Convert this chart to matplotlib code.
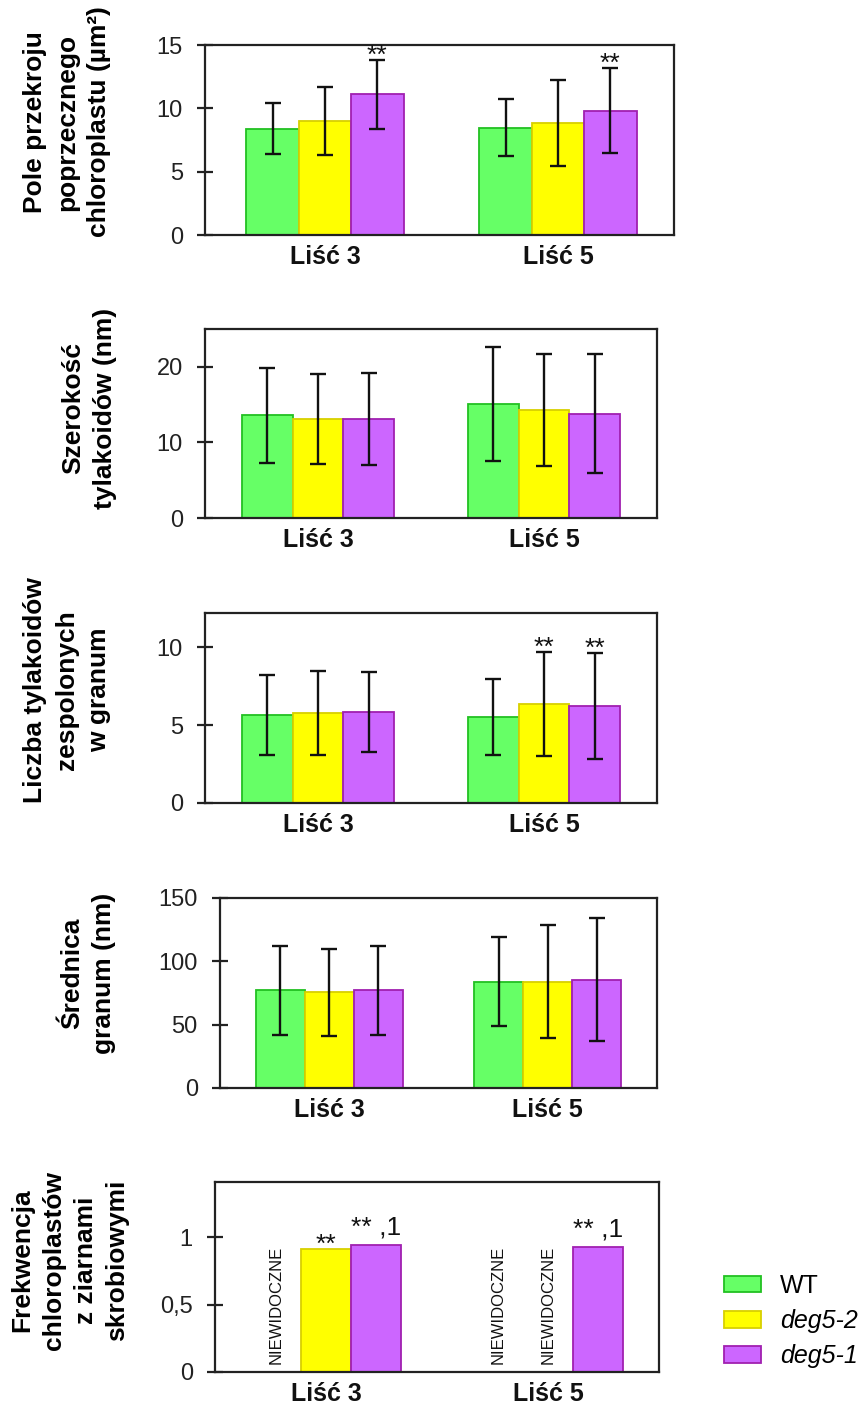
import numpy as np
import matplotlib
matplotlib.use('Agg')
import matplotlib.pyplot as plt
from matplotlib.patches import Patch
from matplotlib import font_manager

plt.rcParams['font.family'] = ['Liberation Sans', 'DejaVu Sans']

# kategorie
leaves = ['Liść 3', 'Liść 5']
genotypes = ['WT', 'deg5-2', 'deg5-1']
face_colors = ['#66FF66', '#FFFF00', '#CC66FF']
edge_colors = ['#22C022', '#D8D000', '#A020B0']

# wiersze: WT, deg5-2, deg5-1 ; kolumny: Liść 3, Liść 5
area_mean = [[8.4, 8.45], [9.0, 8.85], [11.1, 9.8]]
area_sd = [[2.0, 2.25], [2.7, 3.4], [2.7, 3.35]]
area_marks = [(2, 0, '**'), (2, 1, '**')]

width_mean = [[13.6, 15.1], [13.1, 14.3], [13.1, 13.8]]
width_sd = [[6.3, 7.5], [6.0, 7.4], [6.1, 7.9]]
width_marks = []

stack_mean = [[5.65, 5.5], [5.75, 6.35], [5.85, 6.25]]
stack_sd = [[2.55, 2.45], [2.7, 3.35], [2.55, 3.4]]
stack_marks = [(1, 1, '**'), (2, 1, '**')]

diam_mean = [[77, 84], [75.5, 84], [77, 85.5]]
diam_sd = [[35, 35], [34.5, 44.5], [35.5, 48.5]]
diam_marks = []

# nan = brak ziaren skrobi (NIEWIDOCZNE)
starch_mean = [[np.nan, np.nan], [0.91, np.nan], [0.945, 0.93]]
starch_marks = [(1, 0, '**'), (2, 0, '** ,1'), (2, 1, '** ,1')]

# czcionka waska dla napisu NIEWIDOCZNE, jesli jest
names = {f.name for f in font_manager.fontManager.ttflist}
if 'Liberation Sans Narrow' in names:
    narrow = dict(family='Liberation Sans Narrow', fontsize=14)
else:
    narrow = dict(family='Liberation Sans', fontsize=12)

W, H = 867, 1405
fig = plt.figure(figsize=(W / 100, H / 100), dpi=100)

bar_w = 0.225
x = np.arange(len(leaves))


def panel(box, means, sds, ylim, yticks, yticklabels, ylabel, lab_xy, marks, xlim=(-0.5, 1.5)):
    l, t, r, b = box
    ax = fig.add_axes([l / W, 1 - b / H, (r - l) / W, (b - t) / H])
    means = np.array(means, dtype=float)
    for g in range(len(genotypes)):
        pos = x + (g - 1) * bar_w
        ok = ~np.isnan(means[g])
        err = None if sds is None else np.array(sds[g])[ok]
        ax.bar(pos[ok], means[g][ok], bar_w, yerr=err,
               color=face_colors[g], edgecolor=edge_colors[g], linewidth=1.3,
               error_kw=dict(ecolor='#111111', elinewidth=1.7, capsize=5.5, capthick=1.7),
               zorder=2)
        # NIEWIDOCZNE w miejscu brakujacych slupkow
        for p in pos[~ok]:
            ax.text(p, 0.04 * ylim[1], 'NIEWIDOCZNE', rotation=90, ha='center',
                    va='bottom', color='#111111', **narrow)
    for g, k, s in marks:
        top = means[g][k] + (0 if sds is None else sds[g][k])
        dy = -2 if s == '**' else 7
        ax.annotate(s, (x[k] + (g - 1) * bar_w, top), xytext=(0, dy),
                    textcoords='offset points', ha='center', va='baseline',
                    fontsize=19, color='#111111')
    ax.set_xlim(*xlim)
    ax.set_ylim(*ylim)
    ax.set_yticks(yticks)
    ax.set_yticklabels(yticklabels)
    ax.set_xticks(x)
    ax.set_xticklabels(leaves, fontweight='bold')
    ax.tick_params(axis='y', direction='inout', length=12, width=1.6,
                   labelsize=17, pad=10, color='#222222', labelcolor='#222222')
    ax.tick_params(axis='x', length=0, pad=7, labelsize=18, labelcolor='#111111')
    for sp in ax.spines.values():
        sp.set_linewidth(1.6)
        sp.set_color('#222222')
    fig.text(lab_xy[0] / W, 1 - lab_xy[1] / H, ylabel, rotation=90, ha='center',
             va='center', fontsize=19, fontweight='bold', linespacing=1.4,
             multialignment='center')
    return ax


panel((205, 45, 674, 235), area_mean, area_sd, (0, 15), [0, 5, 10, 15],
      ['0', '5', '10', '15'], 'Pole przekroju\npoprzecznego\nchloroplastu (µm²)',
      (67, 122), area_marks, xlim=(-0.515, 1.498))
panel((205, 329, 657, 518), width_mean, width_sd, (0, 25), [0, 10, 20],
      ['0', '10', '20'], 'Szerokość\ntylakoidów (nm)', (89, 408), width_marks)
panel((205, 613, 657, 803), stack_mean, stack_sd, (0, 12.2), [0, 5, 10],
      ['0', '5', '10'], 'Liczba tylakoidów\nzespolonych\nw granum', (67, 690), stack_marks)
panel((220, 898, 657, 1088), diam_mean, diam_sd, (0, 150), [0, 50, 100, 150],
      ['0', '50', '100', '150'], 'Średnica\ngranum (nm)', (88, 973), diam_marks)
ax5 = panel((215, 1182, 659, 1372), starch_mean, None, (0, 1.41), [0, 0.5, 1],
            ['0', '0,5', '1'], 'Frekwencja\nchloroplastów\nz ziarnami\nskrobiowymi',
            (70, 1260), starch_marks)

# legenda
handles = [Patch(facecolor=face_colors[i], edgecolor=edge_colors[i], linewidth=1.3)
           for i in range(3)]
leg = fig.legend(handles, genotypes, loc='upper left', bbox_to_anchor=(724 / W, 1 - 1274 / H),
                 frameon=False, fontsize=18, handlelength=1.48, handleheight=0.64,
                 handletextpad=0.76, labelspacing=0.45, borderpad=0, borderaxespad=0)
for t in leg.get_texts()[1:]:
    t.set_fontstyle('italic')

fig.savefig('out.png', dpi=100)
